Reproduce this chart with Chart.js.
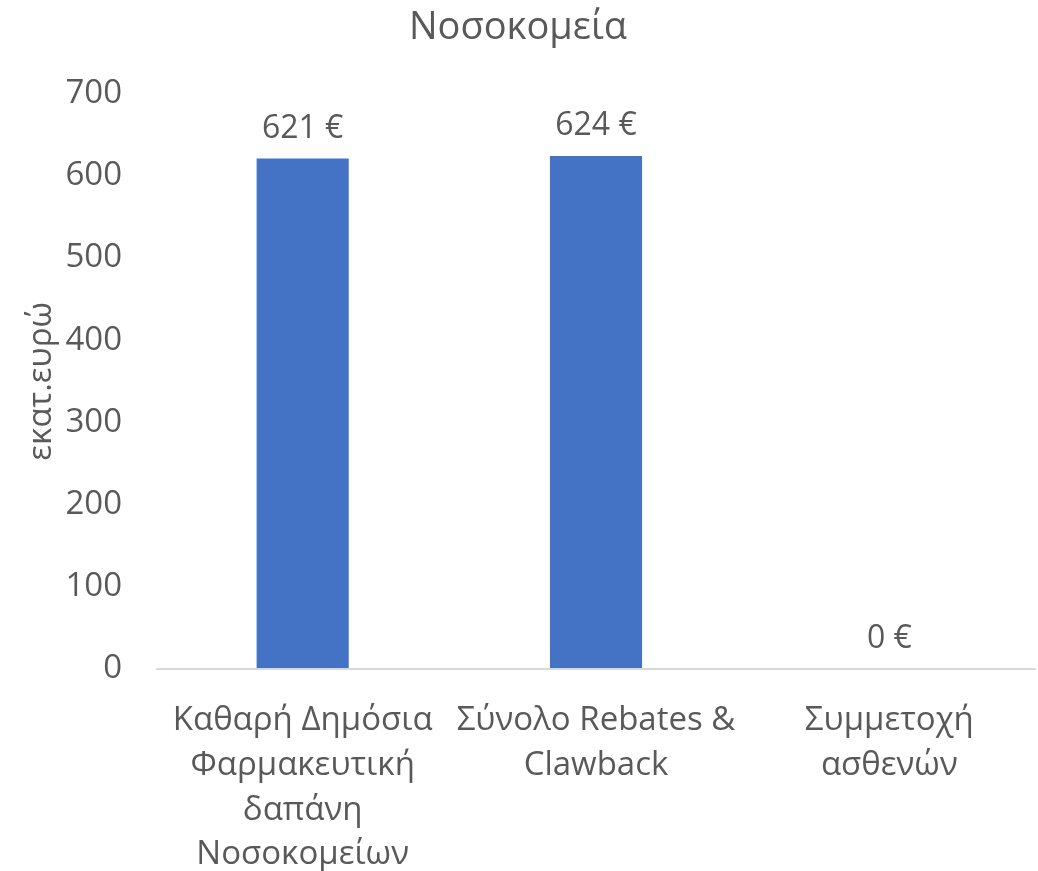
<!DOCTYPE html>
<html>
<head>
<meta charset="utf-8">
<script src="https://cdn.jsdelivr.net/npm/chart.js@4"></script>
<style>
  html, body { margin: 0; padding: 0; background: #fff; }
  #wrap { width: 1038px; height: 871px; }
</style>
</head>
<body>
<div id="wrap"><canvas id="chart" width="1038" height="871"></canvas></div>
<script>
const categories = [
    ['Καθαρή Δημόσια', 'Φαρμακευτική', 'δαπάνη', 'Νοσοκομείων'],
    ['Σύνολο Rebates &', 'Clawback'],
    ['Συμμετοχή', 'ασθενών']
];
const values = [621, 624, 0];
const yTicks = [0, 100, 200, 300, 400, 500, 600, 700];

const textColor = '#595959';
const fontFamily = '"Open Sans", "Noto Sans", sans-serif';

// value labels above the bars
const barLabels = {
    id: 'barLabels',
    afterDatasetsDraw(chart) {
        const ctx = chart.ctx;
        const meta = chart.getDatasetMeta(0);
        ctx.save();
        ctx.fillStyle = textColor;
        ctx.font = '32px ' + fontFamily;
        ctx.textAlign = 'center';
        ctx.textBaseline = 'alphabetic';
        meta.data.forEach((bar, i) => {
            ctx.fillText(values[i] + ' €', bar.x, bar.y - 21);
        });
        ctx.restore();
    }
};

const ctx = document.getElementById('chart').getContext('2d');
const chart = new Chart(ctx, {
    type: 'bar',
    data: {
        labels: categories,
        datasets: [{
            data: values,
            backgroundColor: '#4472C4',
            borderWidth: 0,
            categoryPercentage: 1,
            barPercentage: 0.314
        }]
    },
    options: {
        responsive: false,
        animation: false,
        layout: { padding: { top: 0, right: 2, bottom: 0, left: 0 } },
        plugins: {
            legend: { display: false },
            tooltip: { enabled: false },
            title: {
                display: true,
                text: 'Νοσοκομεία',
                color: textColor,
                font: { family: fontFamily, size: 38, weight: 'normal', lineHeight: 1.2 },
                padding: { top: 5, bottom: 43 }
            }
        },
        scales: {
            x: {
                afterFit: (scale) => { scale.height = 202; },
                grid: { display: false, drawTicks: false },
                border: { display: false },
                ticks: {
                    color: textColor,
                    font: { family: fontFamily, size: 33, lineHeight: 1.36 },
                    maxRotation: 0,
                    autoSkip: false,
                    padding: 29
                }
            },
            y: {
                min: 0,
                max: 700,
                afterBuildTicks: (scale) => {
                    scale.ticks = yTicks.map(v => ({ value: v }));
                },
                afterFit: (scale) => { scale.width = 156; },
                grid: {
                    drawTicks: false,
                    color: (c) => c.tick && c.tick.value === 0 ? '#d9d9d9' : 'transparent',
                    lineWidth: 2
                },
                border: { display: false },
                ticks: {
                    color: textColor,
                    font: { family: fontFamily, size: 33 },
                    padding: 34
                },
                title: {
                    display: true,
                    text: 'εκατ.ευρώ',
                    color: textColor,
                    font: { family: fontFamily, size: 33, weight: 'normal', lineHeight: 1.2 },
                    padding: { top: 22, bottom: 0 }
                }
            }
        }
    },
    plugins: [barLabels]
});
</script>
</body>
</html>
